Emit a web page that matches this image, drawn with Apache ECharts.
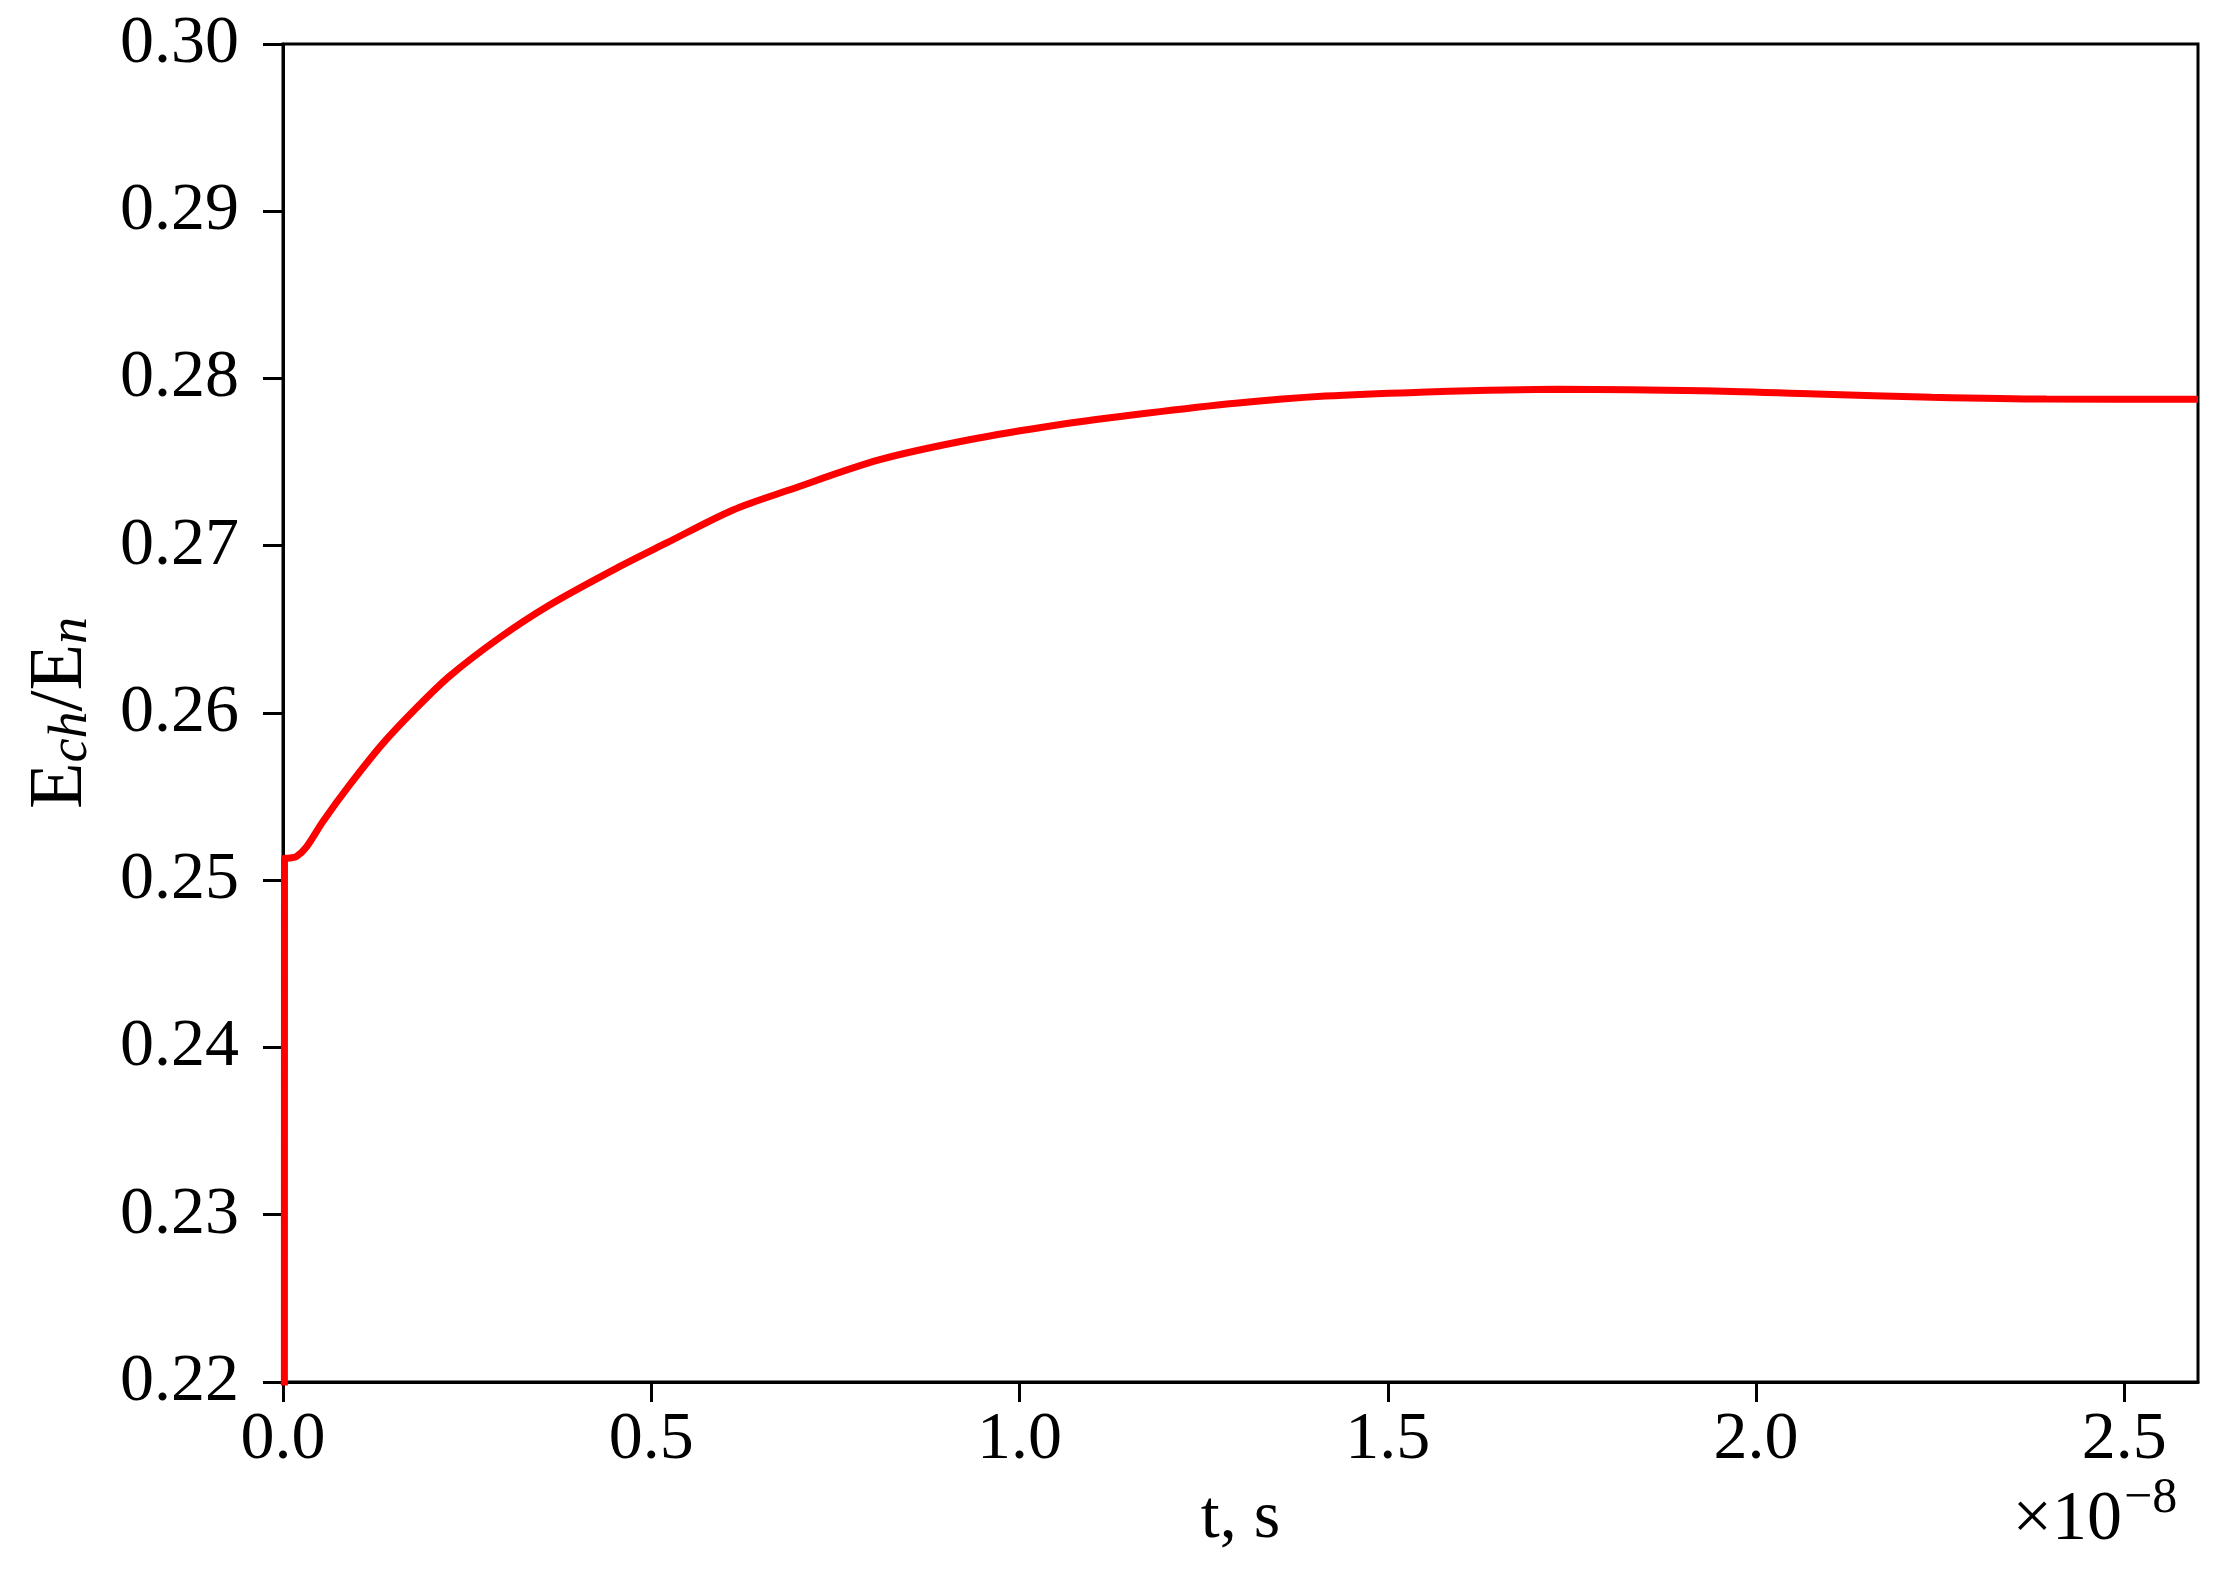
<!DOCTYPE html>
<html>
<head>
<meta charset="utf-8">
<title>E_ch/E_n vs t</title>
<script src="https://cdn.jsdelivr.net/npm/echarts@6/dist/echarts.min.js"></script>
<style>
    html, body { margin: 0; padding: 0; background: #ffffff; }
    #chart { width: 2238px; height: 1571px; }
</style>
</head>
<body>
<div id="chart"></div>
<script>

// time in units of 1e-8 s (axis carries the x10^-8 multiplier)
const tValues = [0.0015, 0.002, 0.010, 0.018, 0.032, 0.054, 0.0905, 0.136, 0.181, 0.226,
    0.294, 0.362, 0.4525, 0.520, 0.611, 0.687, 0.809, 0.930, 1.051, 1.172,
    1.293, 1.415, 1.537, 1.731, 1.926, 2.082, 2.238, 2.394, 2.6];
const ratioValues = [0.0, 0.2513, 0.25133, 0.25141, 0.2520, 0.2535, 0.2557, 0.2582, 0.2603, 0.2622,
    0.2645, 0.26646, 0.26865, 0.27015, 0.27214, 0.27333, 0.27513, 0.27632, 0.27722, 0.27792,
    0.27852, 0.27895, 0.27917, 0.27935, 0.27927, 0.27907, 0.27888, 0.27877, 0.27876];

const xTicks = [0, 0.5, 1.0, 1.5, 2.0, 2.5];
const yTicks = [0.22, 0.23, 0.24, 0.25, 0.26, 0.27, 0.28, 0.29, 0.30];

const FONT = "Liberation Serif";

var chart = echarts.init(document.getElementById("chart"), null, {renderer: "canvas"});

var points = tValues.map(function (t, i) { return [t, ratioValues[i]]; });

var chart_options = {
    backgroundColor: "#ffffff",
    animation: false,
    grid: {
        left: 283,
        right: 40,
        top: 44,
        bottom: 189,
        show: true,
        borderColor: "#000000",
        borderWidth: 3
    },
    xAxis: {
        type: "value",
        min: 0,
        max: 2.6,
        interval: 0.5,
        splitLine: {show: false},
        axisLine: {show: true, lineStyle: {color: "#000000", width: 3}},
        axisTick: {show: true, customValues: xTicks, length: 20, lineStyle: {color: "#000000", width: 3}},
        axisLabel: {
            customValues: xTicks,
            margin: 24,
            color: "#000000",
            fontFamily: FONT,
            fontSize: 68,
            formatter: function (v) { return v.toFixed(1); }
        },
        name: "t, s",
        nameLocation: "middle",
        nameGap: 103,
        nameTextStyle: {color: "#000000", fontFamily: FONT, fontSize: 68}
    },
    yAxis: {
        type: "value",
        min: 0.22,
        max: 0.30,
        interval: 0.01,
        splitLine: {show: false},
        axisLine: {show: true, lineStyle: {color: "#000000", width: 3}},
        axisTick: {show: true, customValues: yTicks, length: 20, lineStyle: {color: "#000000", width: 3}},
        axisLabel: {
            customValues: yTicks,
            margin: 44,
            color: "#000000",
            fontFamily: FONT,
            fontSize: 68,
            formatter: function (v) { return v.toFixed(2); }
        },
        name: "{e|E}{s|ch}{e|/E}{s|n}",
        nameLocation: "middle",
        nameGap: 184,
        nameTextStyle: {
            color: "#000000",
            fontFamily: FONT,
            rich: {
                e: {fontFamily: FONT, fontSize: 76, lineHeight: 76, verticalAlign: "top", color: "#000000"},
                s: {fontFamily: FONT, fontSize: 54, lineHeight: 54, fontStyle: "italic",
                    verticalAlign: "bottom", padding: [30, 0, 0, 0], color: "#000000"}
            }
        }
    },
    graphic: [
        {
            type: "text",
            right: 2238 - 2122,
            top: 1486,
            style: {text: "\u00d710", fontFamily: FONT, fontSize: 70, fill: "#000000"}
        },
        {
            type: "text",
            left: 2124,
            top: 1474,
            style: {text: "\u22128", fontFamily: FONT, fontSize: 50, fill: "#000000"}
        }
    ],
    series: [
        {
            type: "line",
            data: points,
            showSymbol: false,
            smooth: 0.3,
            clip: true,
            lineStyle: {color: "#ff0000", width: 7},
            z: 3
        }
    ]
};

chart.setOption(chart_options);

</script>
</body>
</html>
